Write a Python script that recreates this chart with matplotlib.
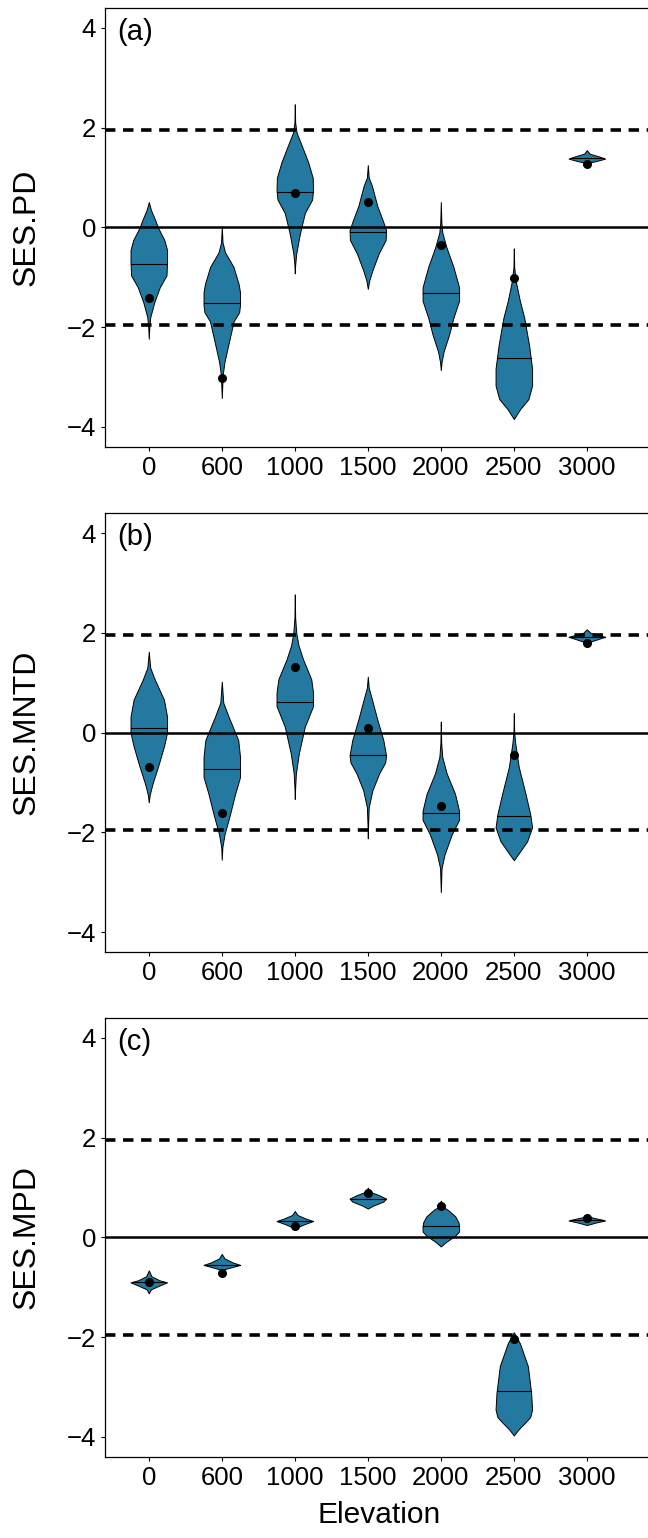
import matplotlib
matplotlib.use("Agg")
import matplotlib.pyplot as plt
import numpy as np

plt.rcParams['font.family'] = ['Liberation Sans', 'DejaVu Sans']
plt.rcParams['lines.scale_dashes'] = False

elevation = ['0', '600', '1000', '1500', '2000', '2500', '3000']
ylabels = ['SES.PD', 'SES.MNTD', 'SES.MPD']
panel_tags = ['(a)', '(b)', '(c)']

# violin outlines: y values (top -> bottom) and relative half-width
pd_y = [
    [0.51, 0.35, 0.15, 0.0, -0.25, -0.45, -0.7, -0.96, -1.2, -1.5, -1.8, -2.0, -2.23],
    [0.02, -0.3, -0.5, -0.79, -1.13, -1.3, -1.55, -1.7, -1.88, -2.28, -2.69, -2.95, -3.42],
    [2.47, 2.1, 1.9, 1.65, 1.31, 1.0, 0.75, 0.56, 0.29, -0.12, -0.52, -0.75, -0.92],
    [1.25, 1.0, 0.83, 0.43, 0.16, -0.05, -0.25, -0.52, -0.86, -1.06, -1.23],
    [0.51, 0.1, -0.1, -0.39, -0.79, -1.2, -1.47, -1.81, -2.15, -2.49, -2.7, -2.86],
    [-0.42, -0.8, -1.1, -1.47, -1.81, -2.35, -2.83, -3.17, -3.44, -3.64, -3.84],
    [1.55, 1.48, 1.42, 1.38, 1.33, 1.29],
]
pd_w = [
    [0, 0.12, 0.35, 0.5, 0.85, 1.0, 1.0, 0.97, 0.6, 0.3, 0.08, 0.03, 0],
    [0, 0.04, 0.18, 0.64, 0.92, 1.0, 1.0, 0.95, 0.65, 0.4, 0.15, 0.05, 0],
    [0, 0.02, 0.1, 0.37, 0.73, 0.98, 1.0, 0.95, 0.55, 0.28, 0.08, 0.02, 0],
    [0, 0.05, 0.23, 0.52, 0.8, 1.0, 0.98, 0.6, 0.25, 0.08, 0],
    [0, 0.03, 0.08, 0.3, 0.69, 1.0, 1.0, 0.69, 0.45, 0.15, 0.04, 0],
    [0, 0.02, 0.12, 0.33, 0.57, 0.83, 1.0, 1.0, 0.8, 0.35, 0],
    [0, 0.15, 0.7, 1.0, 0.5, 0],
]
pd_median = [-0.73, -1.51, 0.72, -0.1, -1.31, -2.61, 1.39]
pd_obs = [-1.41, -3.02, 0.69, 0.52, -0.35, -1.02, 1.27]

mntd_y = [
    [1.62, 1.3, 1.07, 0.66, 0.32, 0.0, -0.28, -0.69, -1.03, -1.25, -1.4],
    [1.02, 0.6, 0.32, -0.15, -0.49, -0.89, -1.23, -1.64, -2.04, -2.3, -2.55],
    [2.77, 2.3, 2.0, 1.75, 1.47, 1.07, 0.8, 0.53, 0.12, -0.42, -0.82, -1.1, -1.33],
    [1.12, 0.9, 0.66, 0.26, -0.15, -0.46, -0.6, -0.82, -1.16, -1.5, -1.8, -2.12],
    [0.22, -0.2, -0.49, -0.82, -1.23, -1.57, -1.75, -2.04, -2.45, -2.72, -3.2],
    [0.39, 0.0, -0.22, -0.69, -1.23, -1.64, -1.9, -2.18, -2.38, -2.56],
    [2.07, 2.0, 1.95, 1.92, 1.86, 1.8],
]
mntd_w = [
    [0, 0.08, 0.32, 0.83, 1.0, 1.0, 0.83, 0.5, 0.2, 0.05, 0],
    [0, 0.08, 0.37, 0.9, 1.0, 1.0, 0.73, 0.45, 0.15, 0.03, 0],
    [0, 0.02, 0.08, 0.2, 0.45, 0.9, 1.0, 1.0, 0.55, 0.22, 0.06, 0.02, 0],
    [0, 0.05, 0.23, 0.52, 0.85, 1.0, 0.95, 0.62, 0.25, 0.05, 0.02, 0],
    [0, 0.02, 0.08, 0.32, 0.78, 1.0, 1.0, 0.6, 0.2, 0.04, 0],
    [0, 0.02, 0.08, 0.27, 0.64, 0.9, 1.0, 0.73, 0.35, 0],
    [0, 0.2, 0.7, 1.0, 0.5, 0],
]
mntd_median = [0.1, -0.73, 0.61, -0.46, -1.61, -1.67, 1.92]
mntd_obs = [-0.7, -1.61, 1.31, 0.09, -1.47, -0.46, 1.79]

mpd_y = [
    [-0.66, -0.78, -0.86, -0.9, -0.96, -1.04, -1.12],
    [-0.33, -0.42, -0.5, -0.55, -0.6, -0.65],
    [0.53, 0.45, 0.38, 0.33, 0.27, 0.2, 0.16],
    [1.0, 0.92, 0.85, 0.78, 0.72, 0.64, 0.58],
    [0.74, 0.62, 0.55, 0.42, 0.3, 0.22, 0.12, 0.04, -0.01, -0.1, -0.18],
    [-1.9, -2.0, -2.12, -2.58, -3.12, -3.45, -3.6, -3.72, -3.85, -3.97],
    [0.44, 0.4, 0.36, 0.34, 0.3, 0.25],
]
mpd_w = [
    [0, 0.15, 0.6, 1.0, 0.6, 0.12, 0],
    [0, 0.15, 0.6, 1.0, 0.5, 0],
    [0, 0.15, 0.6, 1.0, 0.55, 0.1, 0],
    [0, 0.1, 0.6, 1.0, 0.85, 0.3, 0],
    [0, 0.1, 0.4, 0.8, 0.97, 1.0, 1.0, 0.8, 0.6, 0.25, 0],
    [0, 0.15, 0.33, 0.77, 0.95, 1.0, 0.9, 0.6, 0.25, 0],
    [0, 0.3, 0.8, 1.0, 0.5, 0],
]
mpd_median = [-0.89, -0.55, 0.33, 0.77, 0.23, -3.08, 0.35]
mpd_obs = [-0.89, -0.71, 0.24, 0.9, 0.63, -2.03, 0.39]

panels = [
    (pd_y, pd_w, pd_median, pd_obs),
    (mntd_y, mntd_w, mntd_median, mntd_obs),
    (mpd_y, mpd_w, mpd_median, mpd_obs),
]

violin_color = '#23799f'
vwidth = 0.5

fig = plt.figure(figsize=(6.48, 15.38), dpi=100)
bottoms = [0.7094, 0.381, 0.0527]

for k, (ys, ws, medians, obs) in enumerate(panels):
    ax = fig.add_axes([0.162, bottoms[k], 0.845, 0.2854])
    pos = np.arange(len(elevation))

    stats = []
    for y, w, m in zip(ys, ws, medians):
        stats.append({'coords': np.array(y), 'vals': np.array(w, dtype=float),
                      'mean': m, 'median': m, 'min': min(y), 'max': max(y)})
    parts = ax.violin(stats, positions=pos, widths=vwidth, showextrema=False)
    for body in parts['bodies']:
        body.set_facecolor(violin_color)
        body.set_edgecolor('black')
        body.set_linewidth(0.7)
        body.set_alpha(1)

    # median line spans the violin at that height
    for p, y, w, m in zip(pos, ys, ws, medians):
        half = 0.5 * vwidth * np.interp(m, y[::-1], w[::-1]) / max(w)
        ax.plot([p - half, p + half], [m, m], color='black', lw=0.8, zorder=3)

    ax.axhline(0, color='black', lw=1.8, zorder=4)
    for h in (1.96, -1.96):
        ax.axhline(h, color='black', lw=2.6, linestyle=(0, (7.5, 5.5)), zorder=4)

    ax.plot(pos, obs, 'o', color='black', markersize=5.5, zorder=5)

    ax.set_xlim(-0.6, 6.9)
    ax.set_ylim(-4.4, 4.4)
    ax.set_xticks(pos)
    ax.set_xticklabels(elevation)
    ax.set_yticks([-4, -2, 0, 2, 4])
    ax.set_yticklabels(['\u22124', '\u22122', '0', '2', '4'])
    ax.tick_params(labelsize=18.5, length=3, width=0.8, direction='out')
    ax.spines['right'].set_visible(False)
    for s in ('left', 'top', 'bottom'):
        ax.spines[s].set_linewidth(0.9)
    ax.set_ylabel(ylabels[k], fontsize=23)
    ax.yaxis.set_label_coords(-0.115, 0.5)
    ax.text(0.022, 0.977, panel_tags[k], transform=ax.transAxes, fontsize=21,
            va='top', ha='left')
    if k == 2:
        ax.set_xlabel('Elevation', fontsize=21.5, labelpad=8)

fig.savefig('out.png', dpi=100)
